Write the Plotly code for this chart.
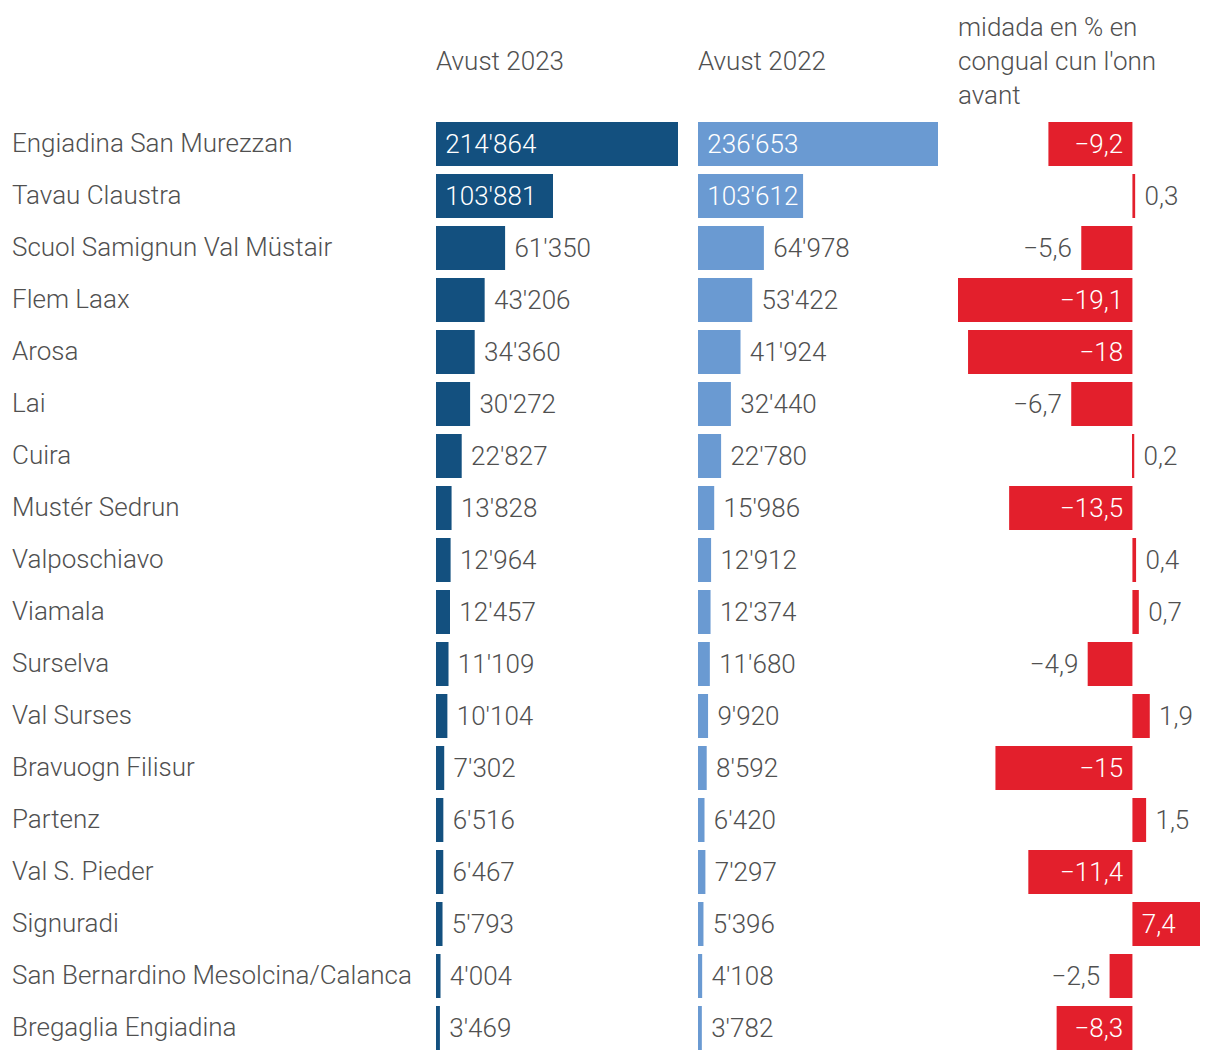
import plotly.graph_objects as go

regions = ["Engiadina San Murezzan", "Tavau Claustra", "Scuol Samignun Val Müstair", "Flem Laax",
           "Arosa", "Lai", "Cuira", "Mustér Sedrun", "Valposchiavo", "Viamala", "Surselva",
           "Val Surses", "Bravuogn Filisur", "Partenz", "Val S. Pieder", "Signuradi",
           "San Bernardino Mesolcina/Calanca", "Bregaglia Engiadina"]
aug2023 = [214864, 103881, 61350, 43206, 34360, 30272, 22827, 13828, 12964, 12457, 11109,
           10104, 7302, 6516, 6467, 5793, 4004, 3469]
aug2022 = [236653, 103612, 64978, 53422, 41924, 32440, 22780, 15986, 12912, 12374, 11680,
           9920, 8592, 6420, 7297, 5396, 4108, 3782]
change_pct = [-9.2, 0.3, -5.6, -19.1, -18, -6.7, 0.2, -13.5, 0.4, 0.7, -4.9, 1.9, -15, 1.5,
              -11.4, 7.4, -2.5, -8.3]
header_2023 = "Avust 2023"
header_2022 = "Avust 2022"
header_change = ["midada en % en", "congual cun l'onn", "avant"]

W, H = 1220, 1060
OFF = 8  # page body offset
FONT = "Roboto"
FS = 26
WEIGHT = 300
GREY = "#505050"
DARK = "#13507F"
LIGHT = "#6A9AD2"
RED = "#E31F2C"
NB = "\u00a0"


def fx(px):
    return (px - OFF) / W


def fmt_int(v):
    return f"{v:,}".replace(",", "'")


def fmt_pct(v):
    return f"{v:g}".replace(".", ",").replace("-", "\u2212")


fig = go.Figure()


def count_trace(vals, color, xa):
    texts, pos, cols = [], [], []
    for v in vals:
        texts.append(NB + fmt_int(v))
        if v >= 100000:
            pos.append("inside")
            cols.append("white")
        else:
            pos.append("outside")
            cols.append(GREY)
    fig.add_trace(go.Bar(
        x=vals, y=regions, orientation="h", marker=dict(color=color, line=dict(width=0)),
        text=texts, textposition=pos, insidetextanchor="start",
        textfont=dict(color=cols, size=FS, family=FONT, weight=WEIGHT), cliponaxis=False,
        xaxis=xa, yaxis="y", hoverinfo="skip", showlegend=False))


count_trace(aug2023, DARK, "x")
count_trace(aug2022, LIGHT, "x2")

ptexts, ppos, pcols = [], [], []
for v in change_pct:
    s = fmt_pct(v)
    inside = abs(v) >= 7
    s = s + NB if v < 0 else NB + s
    ptexts.append(s)
    ppos.append("inside" if inside else "outside")
    pcols.append("white" if inside else GREY)

fig.add_trace(go.Bar(
    x=change_pct, y=regions, orientation="h", marker=dict(color=RED, line=dict(width=0)),
    text=ptexts, textposition=ppos, insidetextanchor="start",
    textfont=dict(color=pcols, size=FS, family=FONT, weight=WEIGHT), cliponaxis=False,
    xaxis="x3", yaxis="y", hoverinfo="skip", showlegend=False))

top, bottom = 118 - OFF, 1054 - OFF
axis_common = dict(showgrid=False, zeroline=False, showticklabels=False, showline=False, ticks="")
fig.update_layout(
    width=W, height=H,
    margin=dict(l=0, r=0, t=top, b=H - bottom, pad=0),
    paper_bgcolor="white", plot_bgcolor="white",
    bargap=0.154,
    font=dict(family=FONT, size=FS, color=GREY, weight=WEIGHT),
    xaxis=dict(domain=[fx(436), fx(678)], range=[0, max(aug2023)], anchor="y", **axis_common),
    xaxis2=dict(domain=[fx(698), fx(938)], range=[0, max(aug2022)], anchor="y", **axis_common),
    xaxis3=dict(domain=[fx(958), fx(1200)], range=[min(change_pct), max(change_pct)], anchor="y",
                **axis_common),
    yaxis=dict(categoryorder="array", categoryarray=regions, range=[len(regions) - 0.5, -0.5],
               showticklabels=False, showgrid=False, zeroline=False, showline=False, ticks=""),
)

tf = dict(size=FS, color=GREY, family=FONT, weight=WEIGHT)
ann = []
for r in regions:
    ann.append(dict(x=fx(10), xref="paper", y=r, yref="y", yshift=1, text=r, showarrow=False,
                    xanchor="left", yanchor="middle", font=tf))


def py(px):
    return (bottom - (px - OFF)) / (bottom - top)


ann.append(dict(x=fx(434), xref="paper", y=py(61), yref="paper", text=header_2023, showarrow=False,
                xanchor="left", yanchor="middle", font=tf))
ann.append(dict(x=fx(696), xref="paper", y=py(61), yref="paper", text=header_2022, showarrow=False,
                xanchor="left", yanchor="middle", font=tf))
for i, line in enumerate(header_change):
    ann.append(dict(x=fx(956), xref="paper", y=py(27 + 34 * i), yref="paper", text=line,
                    showarrow=False, xanchor="left", yanchor="middle", font=tf))
fig.update_layout(annotations=ann)

fig.write_html("out.html")
